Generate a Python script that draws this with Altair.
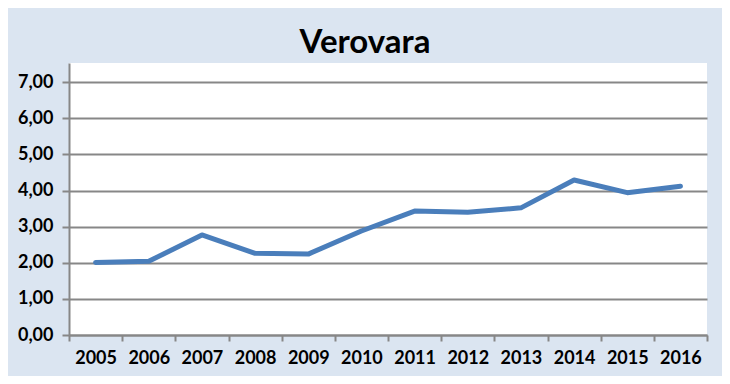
import altair as alt
import pandas as pd

years = ["2005", "2006", "2007", "2008", "2009", "2010",
         "2011", "2012", "2013", "2014", "2015", "2016"]
values = [2.01, 2.04, 2.77, 2.26, 2.24, 2.88, 3.43, 3.40, 3.52, 4.29, 3.94, 4.12]
y_ticks = [0, 1, 2, 3, 4, 5, 6, 7]
title_text = "Verovara"

df = pd.DataFrame({"year": years, "value": values})

FONT = "Lato"
GRAY = "#878787"

chart = alt.Chart(df).mark_line(
    color="#4A7EBB", strokeWidth=5, strokeCap="round", strokeJoin="round"
).encode(
    x=alt.X("year:O", sort=years,
            scale=alt.Scale(paddingInner=0, paddingOuter=0),
            axis=alt.Axis(title=None, labelAngle=0, tickBand="extent",
                          tickSize=6, tickColor=GRAY, tickWidth=2,
                          domainColor=GRAY, domainWidth=2,
                          labelFont=FONT, labelFontSize=18, labelFontWeight="bold",
                          labelColor="black", labelPadding=8, grid=False)),
    y=alt.Y("value:Q",
            scale=alt.Scale(domain=[0, 7.53], nice=False, zero=True),
            axis=alt.Axis(title=None, values=y_ticks,
                          labelExpr="replace(format(datum.value, '.2f'), '.', ',')",
                          tickSize=7, tickColor=GRAY, tickWidth=2,
                          domainColor=GRAY, domainWidth=2,
                          gridColor=GRAY, gridWidth=2, grid=True,
                          labelFont=FONT, labelFontSize=18, labelFontWeight="bold",
                          labelColor="black", labelPadding=9)),
).properties(
    width=638,
    height=272,
    title=alt.TitleParams(title_text, font=FONT, fontSize=33, fontWeight="bold",
                          color="black", anchor="middle", dx=-23, dy=33, offset=10,
                          baseline="alphabetic"),
    padding={"left": 61, "right": 15, "top": 55, "bottom": 41},
    autosize=alt.AutoSizeParams(type="none"),
    background="#DBE5F1",
).configure_view(
    fill="white", stroke=None
)

chart.save("out.html", embed_options={"renderer": "svg", "actions": False})
